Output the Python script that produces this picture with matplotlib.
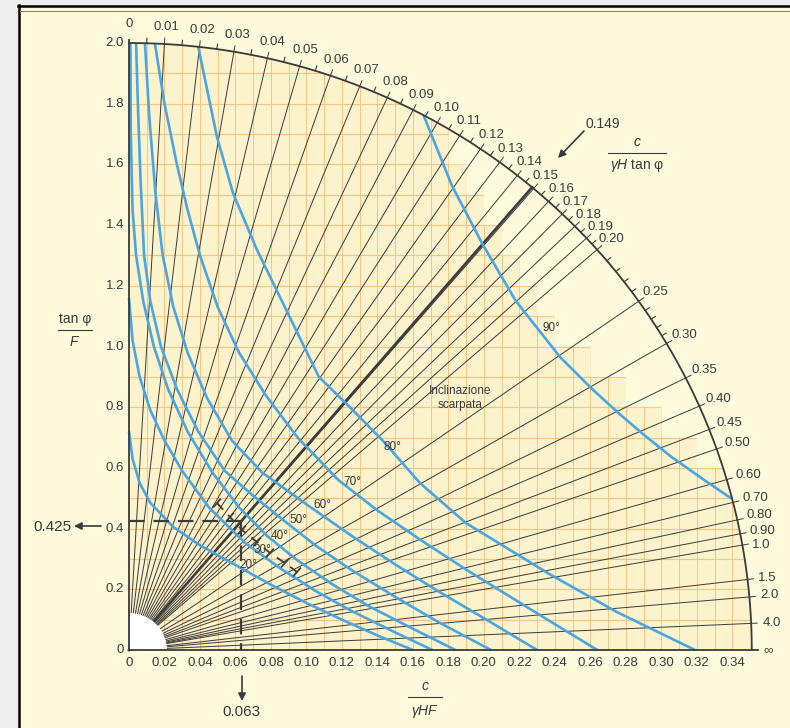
import math

import matplotlib
matplotlib.use("Agg")
import matplotlib.pyplot as plt
import numpy as np
from matplotlib.lines import Line2D
from matplotlib.patches import Ellipse, Polygon, Rectangle

plt.rcParams["font.family"] = ["Liberation Sans", "DejaVu Sans"]
plt.rcParams["mathtext.fontset"] = "custom"
plt.rcParams["mathtext.rm"] = "Liberation Sans"
plt.rcParams["mathtext.it"] = "Liberation Sans:italic"

# --- values --------------------------------------------------------------
x_ticks = [0, 0.02, 0.04, 0.06, 0.08, 0.10, 0.12, 0.14, 0.16, 0.18,
           0.20, 0.22, 0.24, 0.26, 0.28, 0.30, 0.32, 0.34]
x_tick_labels = ["0", "0.02", "0.04", "0.06", "0.08", "0.10", "0.12", "0.14", "0.16",
                 "0.18", "0.20", "0.22", "0.24", "0.26", "0.28", "0.30", "0.32", "0.34"]
y_ticks = [0, 0.2, 0.4, 0.6, 0.8, 1.0, 1.2, 1.4, 1.6, 1.8, 2.0]
y_tick_labels = ["0", "0.2", "0.4", "0.6", "0.8", "1.0", "1.2", "1.4", "1.6", "1.8", "2.0"]

# c / (gamma H tan phi) radial lines
ratio_values = [0.01, 0.02, 0.03, 0.04, 0.05, 0.06, 0.07, 0.08, 0.09, 0.10,
                0.11, 0.12, 0.13, 0.14, 0.15, 0.16, 0.17, 0.18, 0.19, 0.20,
                0.25, 0.30, 0.35, 0.40, 0.45, 0.50, 0.60, 0.70, 0.80, 0.90,
                1.0, 1.5, 2.0, 4.0]
ratio_labels = ["0.01", "0.02", "0.03", "0.04", "0.05", "0.06", "0.07", "0.08", "0.09", "0.10",
                "0.11", "0.12", "0.13", "0.14", "0.15", "0.16", "0.17", "0.18", "0.19", "0.20",
                "0.25", "0.30", "0.35", "0.40", "0.45", "0.50", "0.60", "0.70", "0.80", "0.90",
                "1.0", "1.5", "2.0", "4.0"]
minor_ratios = [0.005, 0.015, 0.025, 0.035, 0.045, 0.055, 0.065, 0.075, 0.085, 0.095,
                0.105, 0.115, 0.125, 0.135, 0.145, 0.155, 0.165, 0.175, 0.185, 0.195,
                0.21, 0.22, 0.23, 0.24, 0.26, 0.27, 0.28, 0.29]

# slope-angle curves (x = c/yHF, y = tan phi / F)
curve_20 = [(0.000, 0.72), (0.002, 0.63), (0.006, 0.55), (0.012, 0.485), (0.025, 0.405),
            (0.040, 0.345), (0.060, 0.28), (0.080, 0.215), (0.100, 0.155), (0.120, 0.10),
            (0.140, 0.048), (0.160, 0.0)]
curve_30 = [(0.000, 1.16), (0.002, 1.02), (0.006, 0.90), (0.012, 0.79), (0.020, 0.69),
            (0.030, 0.59), (0.045, 0.47), (0.065, 0.355), (0.085, 0.27), (0.105, 0.195),
            (0.125, 0.13), (0.150, 0.058), (0.171, 0.0)]
curve_40 = [(0.0008, 1.999), (0.001, 1.70), (0.002, 1.45), (0.004, 1.30), (0.008, 1.15),
            (0.014, 1.00), (0.022, 0.86), (0.033, 0.72), (0.047, 0.585), (0.062, 0.47),
            (0.078, 0.375), (0.095, 0.295), (0.115, 0.215), (0.135, 0.145), (0.160, 0.07),
            (0.184, 0.0)]
curve_50 = [(0.004, 1.999), (0.005, 1.80), (0.0065, 1.55), (0.0085, 1.30), (0.012, 1.15),
            (0.018, 1.00), (0.027, 0.86), (0.039, 0.72), (0.054, 0.59), (0.070, 0.508),
            (0.087, 0.428), (0.105, 0.345), (0.125, 0.265), (0.150, 0.175), (0.175, 0.09),
            (0.204, 0.0)]
curve_60 = [(0.009, 1.999), (0.0115, 1.75), (0.015, 1.50), (0.019, 1.30), (0.025, 1.13),
            (0.033, 0.98), (0.044, 0.83), (0.058, 0.69), (0.075, 0.585), (0.100, 0.48),
            (0.125, 0.378), (0.150, 0.282), (0.175, 0.191), (0.200, 0.105), (0.230, 0.0)]
curve_70 = [(0.0146, 1.998), (0.020, 1.80), (0.027, 1.60), (0.033, 1.45), (0.040, 1.30),
            (0.050, 1.13), (0.062, 0.98), (0.077, 0.84), (0.095, 0.70), (0.118, 0.56),
            (0.140, 0.46), (0.165, 0.36), (0.190, 0.265), (0.215, 0.175), (0.240, 0.085),
            (0.264, 0.0)]
curve_80 = [(0.039, 1.988), (0.0496, 1.69), (0.0586, 1.506), (0.072, 1.32), (0.107, 0.90),
            (0.1245, 0.80), (0.143, 0.69), (0.164, 0.55), (0.190, 0.418), (0.237, 0.25),
            (0.275, 0.125), (0.319, 0.0)]
curve_90 = [(0.166, 1.762), (0.182, 1.53), (0.199, 1.34), (0.218, 1.15), (0.243, 0.965),
            (0.261, 0.86), (0.276, 0.78), (0.291, 0.705), (0.306, 0.635), (0.323, 0.565),
            (0.340, 0.497)]
slope_curves = [curve_20, curve_30, curve_40, curve_50, curve_60, curve_70, curve_80, curve_90]
slope_labels = ["20°", "30°", "40°", "50°", "60°", "70°", "80°", "90°"]

# worked example
example_ratio = 0.149
example_tan = 0.425
example_c = 0.063

# --- layout ----------------------------------------------------------------
W, H = 790, 728
X0, Y0, AW, AH = 129, 78, 621, 607          # axes box in pixels (origin bottom-left)
XMAX, YMAX = 0.35, 2.0
A, B = 0.351, 2.0                            # outer arc semi-axes (data units)
SX, SY = AW / XMAX, AH / YMAX

INK = "#3a3a3a"
BLUE = "#4aa6e0"
CREAM = "#fdfbdc"
TINT = "#fcf2cc"
GRID = "#f3c585"

slope_label_px = [(248, 565), (262, 550), (280, 536), (298, 520), (322, 505),
                  (352, 482), (392, 447), (551, 328)]

fig = plt.figure(figsize=(W / 100, H / 100), dpi=100, facecolor=CREAM)
ax = fig.add_axes([X0 / W, Y0 / H, AW / W, AH / H])
ax.set_xlim(0, XMAX)
ax.set_ylim(0, YMAX)
ax.axis("off")


def fpix(xp, yp):
    """image pixel (top-left origin) -> figure fraction"""
    return xp / W, 1 - yp / H


def arc_point(v):
    if math.isinf(v):
        return A, 0.0
    y = 1.0 / math.sqrt((v / A) ** 2 + 1.0 / B ** 2)
    return v * y, y


def pix_angle(x, y):
    return math.atan2(y * SY, x * SX)


# frame of the scanned page
fig.add_artist(Rectangle((0, 0), 17 / W, 1, transform=fig.transFigure, color="#eeeeee", zorder=0))
fig.add_artist(Rectangle((0, 1 - 5 / H), 1, 5 / H, transform=fig.transFigure, color="#eeeeee", zorder=0))
fig.add_artist(Line2D([18.5 / W, 18.5 / W], [0, 1 - 5 / H], transform=fig.transFigure, color="black", lw=1.8))
fig.add_artist(Line2D([18 / W, 1], [1 - 5.5 / H, 1 - 5.5 / H], transform=fig.transFigure, color="black", lw=1.8))
fig.add_artist(Line2D([20 / W, 1], [1 - 10.5 / H, 1 - 10.5 / H], transform=fig.transFigure, color="#8c8a6a", lw=0.8))

# tinted grid region: staircase under the 90 deg curve, inside the arc
c90x = [p[0] for p in curve_90]
c90y = [p[1] for p in curve_90]
poly = [(0.0, 0.0), (0.0, B)]
for i in range(36):
    left = 0.01 * i
    right = min(left + 0.01, A)
    if left < c90x[0]:
        top = B
    else:
        top = math.ceil(np.interp(left, c90x, c90y) / 0.1 - 1e-9) * 0.1
    for xx in np.linspace(left, right, 14):
        arc_y = B * math.sqrt(max(0.0, 1 - (xx / A) ** 2))
        poly.append((xx, min(top, arc_y)))
poly.append((A, 0.0))
region = Polygon(poly, closed=True, facecolor=TINT, edgecolor="none", zorder=0.5, clip_on=False)
ax.add_patch(region)

for k in range(1, 36):
    ln, = ax.plot([0.01 * k, 0.01 * k], [0, B], color=GRID, lw=0.7, zorder=1)
    ln.set_clip_path(region)
for k in range(1, 20):
    ln, = ax.plot([0, A], [0.1 * k, 0.1 * k], color=GRID, lw=0.8, zorder=1)
    ln.set_clip_path(region)

# radial lines and arc ticks
TICK = 6
for v in ratio_values:
    x, y = arc_point(v)
    th = pix_angle(x, y)
    xt = x + TICK * math.cos(th) / SX
    yt = y + TICK * math.sin(th) / SY
    ax.plot([0, xt], [0, yt], color=INK, lw=0.7, zorder=2, clip_on=False)
for v in minor_ratios:
    x, y = arc_point(v)
    th = pix_angle(x, y)
    ax.plot([x, x + 5 * math.cos(th) / SX], [y, y + 5 * math.sin(th) / SY],
            color=INK, lw=0.8, zorder=2, clip_on=False)

# outer arc
t = np.linspace(0, np.pi / 2, 400)
ax.plot(A * np.cos(t), B * np.sin(t), color=INK, lw=1.3, zorder=4, clip_on=False)

# arc labels
label_nudge = {"0.80": 1.5, "1.0": -2.5}
for v, lab in zip(ratio_values + [math.inf], ratio_labels + ["∞"]):
    x, y = arc_point(v)
    th = pix_angle(x, y)
    dx = 12 * math.cos(th) - 11.4 * math.sin(th)
    dy = 17 * math.sin(th) + label_nudge.get(lab, 0)
    ax.annotate(lab, (x, y), xytext=(dx, dy), textcoords="offset pixels",
                ha="left", va="center", fontsize=9.5, color=INK, annotation_clip=False)
ax.annotate("0", (0, B), xytext=(0, 19), textcoords="offset pixels",
            ha="center", va="center", fontsize=9.5, color=INK, annotation_clip=False)

# slope angle curves
for pts in slope_curves:
    ax.plot([p[0] for p in pts], [p[1] for p in pts], color=BLUE, lw=1.9,
            zorder=3, clip_on=False, solid_capstyle="butt")
for lab, (xp, yp) in zip(slope_labels, slope_label_px):
    fig.text(*fpix(xp, yp), lab, ha="center", va="center", fontsize=8.5, color=INK)

# worked example: bold line and dashed read-offs
ex, ey = arc_point(example_ratio)
ax.plot([0, ex], [0, ey], color="#3c3c3c", lw=1.9, zorder=2.5, clip_on=False)
dash = dict(color="#3c3c3c", lw=1.6, dashes=(7, 4), zorder=4)
ax.plot([0, example_c], [example_tan, example_tan], **dash)
ax.plot([example_c, example_c], [example_tan, 0], **dash)

diag_px = [(217, 503), (230, 517), (242, 530), (257, 542), (270, 553), (285, 563), (297, 572)]
dpts = [((xp - X0) / SX, (650 - yp) / SY) for xp, yp in diag_px]
ax.plot([p[0] for p in dpts], [p[1] for p in dpts], color="#3c3c3c", lw=1.3,
        dashes=(5, 4), zorder=4)
for px_, py_ in dpts:
    ux, uy = 0.66, 0.75
    ax.plot([px_ - 5 * ux / SX, px_ + 5 * ux / SX], [py_ - 5 * uy / SY, py_ + 5 * uy / SY],
            color="#3c3c3c", lw=1.3, zorder=4)

# white quarter patch at origin (clipped to the axes box)
ax.add_patch(Ellipse((0, 0), 2 * 38 / SX, 2 * 37 / SY, facecolor="white",
                     edgecolor="none", zorder=5, clip_on=True))

# axes lines
ax.plot([0, 0], [0, B + 3 / SY], color=INK, lw=1.3, zorder=6, clip_on=False)
ax.plot([0, A + 6 / SX], [0, 0], color=INK, lw=1.3, zorder=6, clip_on=False)

# tick labels
for xv, lab in zip(x_ticks, x_tick_labels):
    ax.annotate(lab, (xv, 0), xytext=(0, -13), textcoords="offset pixels",
                ha="center", va="center", fontsize=9.5, color=INK, annotation_clip=False)
for yv, lab in zip(y_ticks, y_tick_labels):
    ax.annotate(lab, (0, yv), xytext=(-5, 0), textcoords="offset pixels",
                ha="right", va="center", fontsize=9.5, color=INK, annotation_clip=False)


# axis titles (fractions)
def fraction(xc, y_num, y_line, y_den, half, num, den, size=10):
    fig.text(*fpix(xc, y_num), num, ha="center", va="center", fontsize=size, color=INK)
    fig.add_artist(Line2D([(xc - half) / W, (xc + half) / W], [1 - y_line / H] * 2,
                          transform=fig.transFigure, color=INK, lw=0.8))
    fig.text(*fpix(xc, y_den), den, ha="center", va="center", fontsize=size, color=INK)


fraction(75, 319, 330, 342, 17, "tan φ", "$F$")
fraction(425, 686, 697, 711, 17, "$c$", r"$\gamma HF$")
fraction(637, 142, 153, 165, 29, "$c$", r"$\gamma H$ tan φ")

# example values and arrows
arrow = dict(arrowstyle="-|>", color=INK, lw=1.2, mutation_scale=11, shrinkA=0, shrinkB=0)
fig.text(*fpix(52, 527), "0.425", ha="center", va="center", fontsize=11, color=INK)
ax.annotate("", xy=(74, H - 526), xytext=(101, H - 526), xycoords="figure pixels",
            textcoords="figure pixels", arrowprops=arrow, annotation_clip=False)
fig.text(*fpix(241, 712), "0.063", ha="center", va="center", fontsize=11, color=INK)
ax.annotate("", xy=(242, H - 701), xytext=(242, H - 676), xycoords="figure pixels",
            textcoords="figure pixels", arrowprops=arrow, annotation_clip=False)
fig.text(*fpix(603, 124), "0.149", ha="center", va="center", fontsize=10, color=INK)
ax.annotate("", xy=(558, H - 158), xytext=(584, H - 131), xycoords="figure pixels",
            textcoords="figure pixels", arrowprops=arrow, annotation_clip=False)

fig.text(*fpix(460, 391), "Inclinazione", ha="center", va="center", fontsize=8.5, color=INK)
fig.text(*fpix(460, 405), "scarpata", ha="center", va="center", fontsize=8.5, color=INK)

fig.savefig("out.png", dpi=100, facecolor=fig.get_facecolor())
